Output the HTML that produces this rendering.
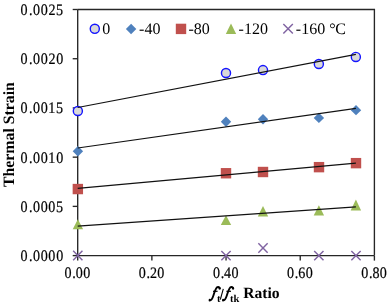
<!DOCTYPE html>
<html><head><meta charset="utf-8"><style>
html,body{margin:0;padding:0;background:#fff;}
svg{display:block;text-rendering:geometricPrecision;will-change:transform;}
.t{font-family:"Liberation Serif",serif;font-size:16px;fill:#000;}
.b{font-family:"Liberation Serif",serif;font-size:15px;font-weight:bold;fill:#000;}
</style></head><body>
<svg width="388" height="305" viewBox="0 0 388 305">
<path d="M77.7 9.5H374.4V255.6" fill="none" stroke="#262626" stroke-width="1.35"/>
<path d="M72.7 255.60H77.7" stroke="#262626" stroke-width="1.35"/>
<path d="M72.7 206.38H77.7" stroke="#262626" stroke-width="1.35"/>
<path d="M72.7 157.16H77.7" stroke="#262626" stroke-width="1.35"/>
<path d="M72.7 107.94H77.7" stroke="#262626" stroke-width="1.35"/>
<path d="M72.7 58.72H77.7" stroke="#262626" stroke-width="1.35"/>
<path d="M72.7 9.50H77.7" stroke="#262626" stroke-width="1.35"/>
<path d="M77.70 255.6V260.6" stroke="#262626" stroke-width="1.35"/>
<path d="M151.88 255.6V260.6" stroke="#262626" stroke-width="1.35"/>
<path d="M226.05 255.6V260.6" stroke="#262626" stroke-width="1.35"/>
<path d="M300.23 255.6V260.6" stroke="#262626" stroke-width="1.35"/>
<path d="M374.40 255.6V260.6" stroke="#262626" stroke-width="1.35"/>
<path d="M77.7 9.5V255.6H374.4" fill="none" stroke="#262626" stroke-width="1.35"/>
<text transform="scale(0.88 1)" x="23.27 33.00 37.48 46.34 54.98 63.84" y="261.10" class="t" style="font-size:16px" stroke="#000" stroke-width="0.22">0.0000</text>
<text transform="scale(0.88 1)" x="23.27 33.00 37.48 46.34 54.98 63.69" y="211.88" class="t" style="font-size:16px" stroke="#000" stroke-width="0.22">0.0005</text>
<text transform="scale(0.88 1)" x="23.27 33.00 37.48 46.34 54.75 63.84" y="162.66" class="t" style="font-size:16px" stroke="#000" stroke-width="0.22">0.0010</text>
<text transform="scale(0.88 1)" x="23.27 33.00 37.48 46.34 54.75 63.69" y="113.44" class="t" style="font-size:16px" stroke="#000" stroke-width="0.22">0.0015</text>
<text transform="scale(0.88 1)" x="23.27 33.00 37.48 46.34 55.07 63.84" y="64.22" class="t" style="font-size:16px" stroke="#000" stroke-width="0.22">0.0020</text>
<text transform="scale(0.88 1)" x="23.27 33.00 37.48 46.34 55.07 63.69" y="15.00" class="t" style="font-size:16px" stroke="#000" stroke-width="0.22">0.0025</text>
<text transform="scale(0.88 1)" x="73.33 82.20 86.11 94.49" y="278.20" class="t" style="font-size:16px" stroke="#000" stroke-width="0.22">0.00</text>
<text transform="scale(0.88 1)" x="157.62 166.49 170.49 178.78" y="278.20" class="t" style="font-size:16px" stroke="#000" stroke-width="0.22">0.20</text>
<text transform="scale(0.88 1)" x="241.91 250.78 254.66 263.07" y="278.20" class="t" style="font-size:16px" stroke="#000" stroke-width="0.22">0.40</text>
<text transform="scale(0.88 1)" x="326.20 335.07 338.98 347.36" y="278.20" class="t" style="font-size:16px" stroke="#000" stroke-width="0.22">0.60</text>
<text transform="scale(0.88 1)" x="410.49 419.36 423.27 431.65" y="278.20" class="t" style="font-size:16px" stroke="#000" stroke-width="0.22">0.80</text>
<path d="M73.14999999999999 250.85L82.45 260.15M82.45 250.85L73.14999999999999 260.15" stroke="#8064a2" stroke-width="1.45" fill="none"/>
<path d="M221.35 250.95L230.65 260.25M230.65 250.95L221.35 260.25" stroke="#8064a2" stroke-width="1.45" fill="none"/>
<path d="M258.35 243.35L267.65 252.65M267.65 243.35L258.35 252.65" stroke="#8064a2" stroke-width="1.45" fill="none"/>
<path d="M314.20000000000005 250.95L323.5 260.25M323.5 250.95L314.20000000000005 260.25" stroke="#8064a2" stroke-width="1.45" fill="none"/>
<path d="M351.35 251.04999999999998L360.65 260.34999999999997M360.65 251.04999999999998L351.35 260.34999999999997" stroke="#8064a2" stroke-width="1.45" fill="none"/>
<path d="M77.9 219.2L83.10000000000001 229.2L72.7 229.2Z" fill="#9bbb59"/>
<path d="M226 215.2L231.2 225.1L220.8 225.1Z" fill="#9bbb59"/>
<path d="M263 206.0L268.2 216.4L257.8 216.4Z" fill="#9bbb59"/>
<path d="M318.9 205.2L324.09999999999997 215.5L313.7 215.5Z" fill="#9bbb59"/>
<path d="M355.9 199.6L361.09999999999997 210.4L350.7 210.4Z" fill="#9bbb59"/>
<rect x="72.64999999999999" y="183.85000000000002" width="10.4" height="10.4" fill="#c0504d"/>
<rect x="220.8" y="168.05" width="10.4" height="10.4" fill="#c0504d"/>
<rect x="257.8" y="166.8" width="10.4" height="10.4" fill="#c0504d"/>
<rect x="313.8" y="161.95000000000002" width="10.4" height="10.4" fill="#c0504d"/>
<rect x="350.8" y="157.95000000000002" width="10.4" height="10.4" fill="#c0504d"/>
<path d="M77.9 146.0L83.10000000000001 151.2L77.9 156.39999999999998L72.7 151.2Z" fill="#4f81bd"/>
<path d="M226 116.55L231.2 121.75L226 126.95L220.8 121.75Z" fill="#4f81bd"/>
<path d="M263 114.05L268.2 119.25L263 124.45L257.8 119.25Z" fill="#4f81bd"/>
<path d="M318.9 112.7L324.09999999999997 117.9L318.9 123.10000000000001L313.7 117.9Z" fill="#4f81bd"/>
<path d="M356 104.95L361.2 110.15L356 115.35000000000001L350.8 110.15Z" fill="#4f81bd"/>
<circle cx="77.85" cy="111" r="4.55" fill="#d9d9d9" stroke="#1414ff" stroke-width="1.4"/>
<circle cx="226" cy="73" r="4.55" fill="#d9d9d9" stroke="#1414ff" stroke-width="1.4"/>
<circle cx="263" cy="70.1" r="4.55" fill="#d9d9d9" stroke="#1414ff" stroke-width="1.4"/>
<circle cx="318.85" cy="64" r="4.55" fill="#d9d9d9" stroke="#1414ff" stroke-width="1.4"/>
<circle cx="355.85" cy="56.95" r="4.55" fill="#d9d9d9" stroke="#1414ff" stroke-width="1.4"/>
<path d="M77.7 107.52L355.9 54.33" stroke="#111" stroke-width="1.2" fill="none"/>
<path d="M77.7 148.02L355.9 108.4" stroke="#111" stroke-width="1.2" fill="none"/>
<path d="M77.7 188.42L355.9 163.08" stroke="#111" stroke-width="1.2" fill="none"/>
<path d="M77.7 226.03L355.9 206.97" stroke="#111" stroke-width="1.2" fill="none"/>
<circle cx="94.8" cy="28.8" r="4.55" fill="#d9d9d9" stroke="#1414ff" stroke-width="1.4"/>
<text x="102.2" y="33.6" class="t">0</text>
<path d="M131.1 23.75L136.29999999999998 28.95L131.1 34.15L125.89999999999999 28.95Z" fill="#4f81bd"/>
<text x="139.1" y="33.6" class="t">-40</text>
<rect x="175.8" y="23.7" width="10.4" height="10.4" fill="#c0504d"/>
<text x="188.4" y="33.6" class="t">-80</text>
<path d="M231 23.6L236.2 33.9L225.8 33.9Z" fill="#9bbb59"/>
<text x="238.6" y="33.6" class="t">-120</text>
<path d="M283.35 24.1L292.85 33.6M292.85 24.1L283.35 33.6" stroke="#8064a2" stroke-width="1.45" fill="none"/>
<text x="295.8" y="33.6" class="t">-160 <tspan letter-spacing="-0.2">°</tspan>C</text>
<text transform="translate(13.7 187.0) rotate(-90)" class="b" style="font-size:15.8px">Thermal Strain</text>
<g transform="translate(0 0)"><path d="M219.9 288.6C219.9 287.3 218.2 286.5 216.9 287.4C215.6 288.4 214.6 291.6 213.5 295.2C212.5 298.5 211.6 300.6 209.6 300.5" fill="none" stroke="#000" stroke-width="1.9" stroke-linecap="round"/><circle cx="219.5" cy="288.4" r="1.1" fill="#000"/><circle cx="209.7" cy="299.8" r="1.0" fill="#000"/><path d="M213 291.3H217.6" stroke="#000" stroke-width="1.2"/></g>
<g transform="translate(13.4 0)"><path d="M219.9 288.6C219.9 287.3 218.2 286.5 216.9 287.4C215.6 288.4 214.6 291.6 213.5 295.2C212.5 298.5 211.6 300.6 209.6 300.5" fill="none" stroke="#000" stroke-width="1.9" stroke-linecap="round"/><circle cx="219.5" cy="288.4" r="1.1" fill="#000"/><circle cx="209.7" cy="299.8" r="1.0" fill="#000"/><path d="M213 291.3H217.6" stroke="#000" stroke-width="1.2"/></g>
<path d="M223.3 288.9L220.3 299.7" stroke="#000" stroke-width="1.1"/>
<g class="b" style="font-size:10.5px"><text x="216.9" y="301.6">t</text><text x="229.9" y="301.6">tk</text></g>
<text x="243.2" y="297.8" class="b" style="font-size:15.6px">Ratio</text>
</svg>
</body></html>
